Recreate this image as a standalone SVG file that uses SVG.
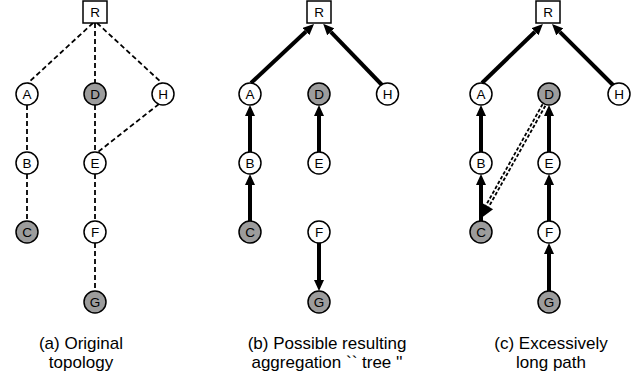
<svg xmlns="http://www.w3.org/2000/svg" width="634" height="377" viewBox="0 0 634 377">
<style>
.n{fill:#fff;stroke:#000;stroke-width:1.5}
.g{fill:#9c9c9c;stroke:#000;stroke-width:1.5}
.t{font-family:"Liberation Sans",Arial,sans-serif;font-size:13.5px;text-anchor:middle;fill:#000}
.cap{font-family:"Liberation Sans",Arial,sans-serif;font-size:17px;text-anchor:middle;fill:#000}
.d{stroke:#000;stroke-width:1.8;stroke-dasharray:5 3;fill:none}
.a{stroke:#000;stroke-width:4;fill:none;marker-end:url(#ah)}
</style>
<defs>
<marker id="ah" viewBox="0 0 11 10" refX="0" refY="5" markerWidth="11" markerHeight="10" markerUnits="userSpaceOnUse" orient="auto"><path d="M0,0 L11,5 L0,10 z" fill="#000"/></marker>
</defs>

<g id="connectors">
<!-- panel a -->
<line class="d" x1="93" y1="23" x2="28" y2="83"/>
<line class="d" x1="95" y1="23" x2="95" y2="83"/>
<line class="d" x1="97" y1="23" x2="162" y2="83"/>
<line class="d" x1="27" y1="105" x2="27" y2="152"/>
<line class="d" x1="27" y1="174" x2="27" y2="221"/>
<line class="d" x1="95" y1="105" x2="95" y2="152"/>
<line class="d" x1="159" y1="104" x2="98" y2="152"/>
<line class="d" x1="95" y1="174" x2="95" y2="221"/>
<line class="d" x1="95" y1="243" x2="95" y2="291"/>
<!-- panel b -->
<line class="a" x1="251" y1="83" x2="306" y2="31.5"/>
<line class="a" x1="382" y1="85" x2="330.8" y2="31.8"/>
<line class="a" x1="250" y1="152" x2="250" y2="116"/>
<line class="a" x1="250" y1="221" x2="250" y2="185"/>
<line class="a" x1="319" y1="152" x2="319" y2="116"/>
<line class="a" x1="319" y1="243" x2="319" y2="280"/>
<!-- panel c -->
<line class="a" x1="482" y1="83" x2="535" y2="31.7"/>
<line class="a" x1="613" y1="85" x2="559.8" y2="31.8"/>
<line class="a" x1="481" y1="152" x2="481" y2="116"/>
<line class="a" x1="481" y1="221" x2="481" y2="185"/>
<line class="a" x1="549" y1="152" x2="549" y2="116"/>
<line class="a" x1="549" y1="221" x2="549" y2="185"/>
<line class="a" x1="549" y1="291" x2="549" y2="254"/>
<line x1="544" y1="105" x2="487.4" y2="206" stroke="#000" stroke-width="5" stroke-dasharray="3.5 2"/>
<line x1="544.5" y1="104" x2="487.4" y2="206" stroke="#fff" stroke-width="1.4"/>
<polygon points="480,219 493.1,209.2 481.7,202.8" fill="#000"/>
</g>

<!-- panel a nodes -->
<g id="a-R"><rect class="n" x="83" y="1" width="24" height="22"/><text class="t" x="95" y="16.8">R</text></g>
<g id="a-A"><circle class="n" cx="27" cy="94" r="11"/><text class="t" x="27" y="98.8">A</text></g>
<g id="a-D"><circle class="g" cx="95" cy="94" r="11"/><text class="t" x="95" y="98.8">D</text></g>
<g id="a-H"><circle class="n" cx="163" cy="94" r="11"/><text class="t" x="163" y="98.8">H</text></g>
<g id="a-B"><circle class="n" cx="27" cy="163" r="11"/><text class="t" x="27" y="167.8">B</text></g>
<g id="a-E"><circle class="n" cx="95" cy="163" r="11"/><text class="t" x="95" y="167.8">E</text></g>
<g id="a-C"><circle class="g" cx="27" cy="232" r="11"/><text class="t" x="27" y="236.8">C</text></g>
<g id="a-F"><circle class="n" cx="95" cy="232" r="11"/><text class="t" x="95" y="236.8">F</text></g>
<g id="a-G"><circle class="g" cx="95" cy="302" r="11"/><text class="t" x="95" y="306.8">G</text></g>

<!-- panel b nodes -->
<g id="b-R"><rect class="n" x="307" y="1" width="24" height="22"/><text class="t" x="319" y="16.8">R</text></g>
<g id="b-A"><circle class="n" cx="250" cy="94" r="11"/><text class="t" x="250" y="98.8">A</text></g>
<g id="b-D"><circle class="g" cx="319" cy="94" r="11"/><text class="t" x="319" y="98.8">D</text></g>
<g id="b-H"><circle class="n" cx="387.5" cy="94" r="11"/><text class="t" x="387.5" y="98.8">H</text></g>
<g id="b-B"><circle class="n" cx="250" cy="163" r="11"/><text class="t" x="250" y="167.8">B</text></g>
<g id="b-E"><circle class="n" cx="319" cy="163" r="11"/><text class="t" x="319" y="167.8">E</text></g>
<g id="b-C"><circle class="g" cx="250" cy="232" r="11"/><text class="t" x="250" y="236.8">C</text></g>
<g id="b-F"><circle class="n" cx="319" cy="232" r="11"/><text class="t" x="319" y="236.8">F</text></g>
<g id="b-G"><circle class="g" cx="319" cy="302" r="11"/><text class="t" x="319" y="306.8">G</text></g>

<!-- panel c nodes -->
<g id="c-R"><rect class="n" x="536" y="1" width="24" height="22"/><text class="t" x="548" y="16.8">R</text></g>
<g id="c-A"><circle class="n" cx="481" cy="94" r="11"/><text class="t" x="481" y="98.8">A</text></g>
<g id="c-D"><circle class="g" cx="549" cy="94" r="11"/><text class="t" x="549" y="98.8">D</text></g>
<g id="c-H"><circle class="n" cx="619" cy="94" r="11"/><text class="t" x="619" y="98.8">H</text></g>
<g id="c-B"><circle class="n" cx="481" cy="163" r="11"/><text class="t" x="481" y="167.8">B</text></g>
<g id="c-E"><circle class="n" cx="549" cy="163" r="11"/><text class="t" x="549" y="167.8">E</text></g>
<g id="c-C"><circle class="g" cx="481" cy="232" r="11"/><text class="t" x="481" y="236.8">C</text></g>
<g id="c-F"><circle class="n" cx="549" cy="232" r="11"/><text class="t" x="549" y="236.8">F</text></g>
<g id="c-G"><circle class="g" cx="549" cy="302" r="11"/><text class="t" x="549" y="306.8">G</text></g>

<g id="captions">
<text class="cap" x="81" y="349">(a) Original</text>
<text class="cap" x="81" y="368">topology</text>
<text class="cap" x="327" y="349">(b) Possible resulting</text>
<text class="cap" x="327" y="368">aggregation `` tree ''</text>
<text class="cap" x="551" y="349">(c) Excessively</text>
<text class="cap" x="551" y="368">long path</text>
</g>
</svg>
